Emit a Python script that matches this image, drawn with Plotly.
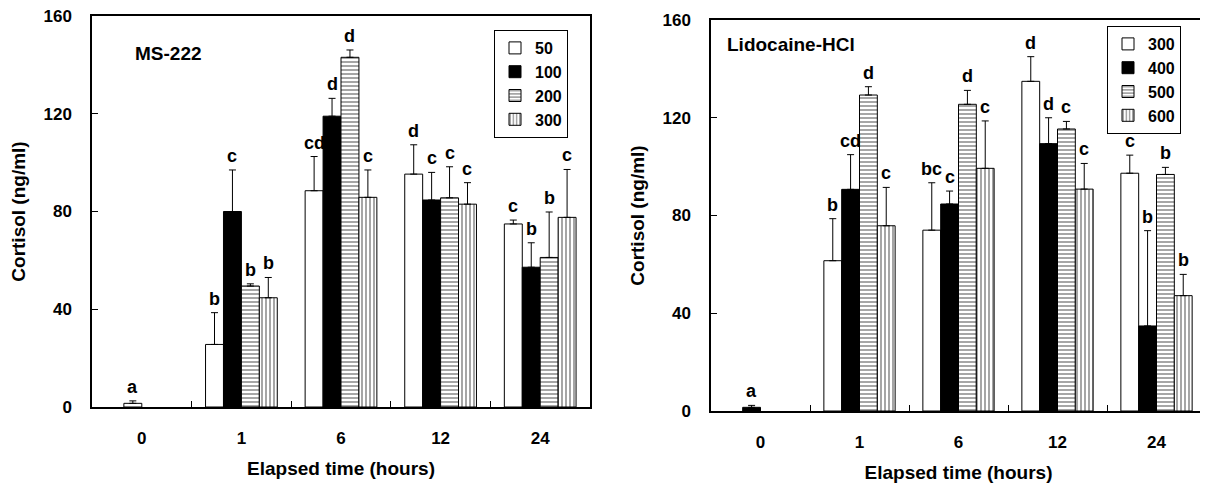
import plotly.graph_objects as go

times = ["0", "1", "6", "12", "24"]

# MS-222 panel
ms_names = ["50", "100", "200", "300"]
ms_50 = [None, 25.6, 88.5, 95.3, 74.9]
ms_100 = [None, 80.0, 119.0, 84.7, 57.2]
ms_200 = [None, 49.5, 143.1, 85.6, 61.2]
ms_300 = [None, 44.7, 85.8, 83.0, 77.6]
ms_50_err = [0, 13.0, 14.0, 12.0, 1.6]
ms_100_err = [0, 17.0, 7.3, 11.3, 10.0]
ms_200_err = [0, 0.9, 3.0, 12.7, 18.6]
ms_300_err = [0, 8.3, 11.2, 8.8, 19.6]
ms_50_let = [None, "b", "cd", "d", "c"]
ms_100_let = [None, "c", "d", "c", "b"]
ms_200_let = [None, "b", "d", "c", "b"]
ms_300_let = [None, "b", "c", "c", "c"]
ms_control = [1.5, None, None, None, None]
ms_control_err = [1.0, 0, 0, 0, 0]
ms_control_let = ["a", None, None, None, None]

# Lidocaine-HCl panel
li_names = ["300", "400", "500", "600"]
li_300 = [None, 61.5, 74.0, 134.9, 97.3]
li_400 = [None, 90.7, 84.7, 109.4, 34.8]
li_500 = [None, 129.3, 125.5, 115.4, 96.8]
li_600 = [None, 75.8, 99.3, 90.8, 47.2]
li_300_err = [0, 17.2, 19.4, 10.1, 7.4]
li_400_err = [0, 14.2, 5.3, 10.6, 39.0]
li_500_err = [0, 3.4, 5.7, 3.1, 2.9]
li_600_err = [0, 15.7, 19.4, 10.5, 8.7]
li_300_let = [None, "b", "bc", "d", "c"]
li_400_let = [None, "cd", "c", "d", "b"]
li_500_let = [None, "d", "d", "c", "b"]
li_600_let = [None, "c", "c", "c", "b"]
li_control = [1.5, None, None, None, None]
li_control_err = [0.8, 0, 0, 0, 0]
li_control_let = ["a", None, None, None, None]

FONT = "Arial, Liberation Sans, sans-serif"

# page body has an 8px margin: figure occupies window pixels 8..1208 x 8..484
W, H, OFF = 1200, 476, 8


def px_x(X):
    return (X - OFF) / W


def px_y(Y):
    return 1 - (Y - OFF) / H


styles = [
    dict(color="white", pattern=None),
    dict(color="black", pattern=None),
    dict(color="white", pattern=dict(shape="-", fgcolor="black", bgcolor="white", size=4, solidity=0.35)),
    dict(color="white", pattern=dict(shape="|", fgcolor="black", bgcolor="white", size=4, solidity=0.35)),
]
groups = ["g0", "g1", "g2", "g3"]

fig = go.Figure()

panels = [
    dict(names=ms_names, vals=[ms_50, ms_100, ms_200, ms_300],
         errs=[ms_50_err, ms_100_err, ms_200_err, ms_300_err],
         lets=[ms_50_let, ms_100_let, ms_200_let, ms_300_let],
         ctrl=ms_control, ctrl_err=ms_control_err, ctrl_let=ms_control_let, ctrl_color="white",
         xa="x", ya="y", legend="legend", slot=17.9),
    dict(names=li_names, vals=[li_300, li_400, li_500, li_600],
         errs=[li_300_err, li_400_err, li_500_err, li_600_err],
         lets=[li_300_let, li_400_let, li_500_let, li_600_let],
         ctrl=li_control, ctrl_err=li_control_err, ctrl_let=li_control_let, ctrl_color="black",
         xa="x2", ya="y2", legend="legend2", slot=17.8),
]

letfont = dict(family=FONT, size=18, color="black", weight="bold")
annotations = []


def add_letters(vals, errs, lets, i, p):
    for j in range(len(times)):
        v = vals[j]
        lt = lets[j]
        if v is None or lt is None:
            continue
        annotations.append(dict(
            x=j, y=v + errs[j], xref=p["xa"], yref=p["ya"],
            text=lt, showarrow=False, yanchor="bottom",
            xshift=(i - 1.5) * p["slot"], yshift=2, font=letfont,
        ))


for p in panels:
    for i in range(4):
        st = styles[i]
        marker = dict(color=st["color"], line=dict(color="black", width=1))
        if st["pattern"] is not None:
            marker["pattern"] = st["pattern"]
        fig.add_trace(go.Bar(
            x=times, y=p["vals"][i], name=p["names"][i],
            xaxis=p["xa"], yaxis=p["ya"], legend=p["legend"],
            offsetgroup=groups[i], marker=marker,
            error_y=dict(type="data", symmetric=False, array=p["errs"][i],
                         arrayminus=[0] * len(times), color="black",
                         thickness=1, width=3.5),
        ))
        add_letters(p["vals"][i], p["errs"][i], p["lets"][i], i, p)
    # control (time 0) bar, drawn in the second slot
    fig.add_trace(go.Bar(
        x=times, y=p["ctrl"], name="control", showlegend=False,
        xaxis=p["xa"], yaxis=p["ya"], legend=p["legend"],
        offsetgroup=groups[1],
        marker=dict(color=p["ctrl_color"], line=dict(color="black", width=1)),
        error_y=dict(type="data", symmetric=False, array=p["ctrl_err"],
                     arrayminus=[0] * len(times), color="black",
                     thickness=1, width=3.5),
    ))
    add_letters(p["ctrl"], p["ctrl_err"], p["ctrl_let"], 1, p)

annotations.append(dict(x=px_x(133), y=px_y(53), xref="paper", yref="paper",
                        text="MS-222", showarrow=False, xanchor="left", yanchor="middle",
                        font=dict(family=FONT, size=19, color="black", weight="bold")))
annotations.append(dict(x=px_x(725), y=px_y(45), xref="paper", yref="paper",
                        text="Lidocaine-HCl", showarrow=False, xanchor="left", yanchor="middle",
                        font=dict(family=FONT, size=19, color="black", weight="bold")))

tickfont = dict(family=FONT, size=17, color="black", weight="bold")
titlefont = dict(family=FONT, size=19, color="black", weight="bold")


def xax(domain, anchor):
    return dict(domain=domain, anchor=anchor, type="category", range=[-0.5, 4.5],
                tickson="boundaries", ticks="inside", ticklen=6, tickcolor="black",
                showline=True, linecolor="black", linewidth=1.5, mirror=True,
                showgrid=False, zeroline=False, tickfont=tickfont,
                ticklabelstandoff=15, ticklabeloverflow="allow",
                title=dict(text="Elapsed time (hours)", font=titlefont, standoff=15))


def yax(domain, anchor):
    return dict(domain=domain, anchor=anchor, range=[0, 160],
                tickvals=[0, 40, 80, 120, 160], ticks="inside", ticklen=6, tickcolor="black",
                showline=True, linecolor="black", linewidth=1.5, mirror=True,
                showgrid=False, zeroline=False, tickfont=tickfont,
                ticklabelstandoff=15, ticklabeloverflow="allow",
                title=dict(text="Cortisol (ng/ml)", font=titlefont, standoff=13))


legfont = dict(family=FONT, size=16, color="black", weight="bold")

fig.update_layout(
    width=W, height=H,
    margin=dict(l=0, r=0, t=0, b=0, autoexpand=False),
    paper_bgcolor="white", plot_bgcolor="white",
    barmode="group", bargap=0.28, bargroupgap=0,
    xaxis=xax([px_x(92), px_x(590)], "y"),
    yaxis=yax([px_y(407), px_y(16)], "x"),
    xaxis2=xax([px_x(711), px_x(1206)], "y2"),
    yaxis2=yax([px_y(411), px_y(20)], "x2"),
    legend=dict(x=px_x(494), xanchor="left", y=px_y(30), yanchor="top",
                bordercolor="black", borderwidth=1, bgcolor="white", font=legfont,
                itemwidth=30, entrywidth=45, entrywidthmode="pixels",
                tracegroupgap=0, traceorder="normal"),
    legend2=dict(x=px_x(1107), xanchor="left", y=px_y(26), yanchor="top",
                 bordercolor="black", borderwidth=1, bgcolor="white", font=legfont,
                 itemwidth=30, entrywidth=48, entrywidthmode="pixels",
                 tracegroupgap=0, traceorder="normal"),
    annotations=annotations,
    showlegend=True,
)

fig.write_html("out.html")
